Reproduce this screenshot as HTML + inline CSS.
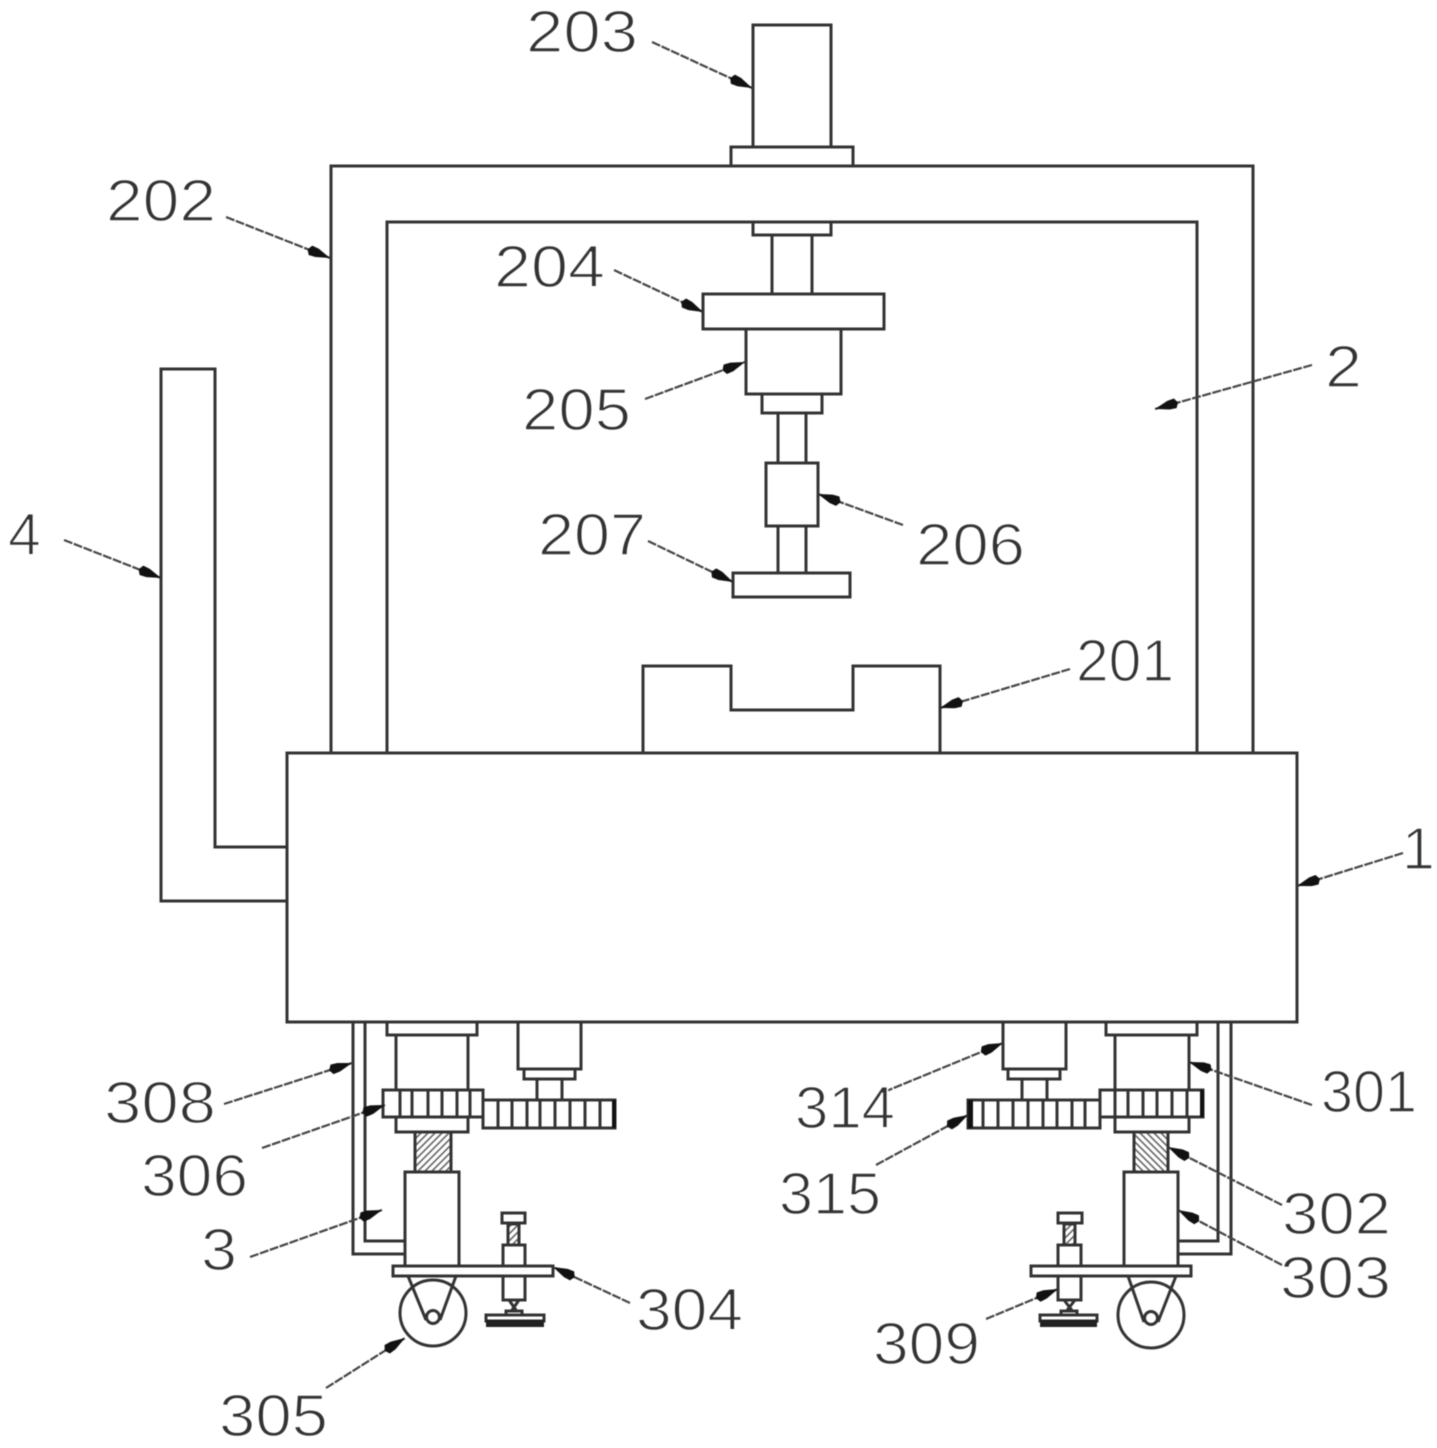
<!DOCTYPE html>
<html><head><meta charset="utf-8"><style>
html,body{margin:0;padding:0;background:#fff;width:1437px;height:1448px;overflow:hidden}
svg{display:block;filter:blur(.5px)}
.l{fill:#fff;stroke:#333;stroke-width:3}
.n{fill:none;stroke:#333;stroke-width:3}
.t{fill:none;stroke:#333;stroke-width:3}
.a{stroke:#444;stroke-width:2.2;fill:none;stroke-dasharray:9 1.5;marker-end:url(#h)}
text{font-family:"Liberation Sans",sans-serif;font-size:59px;fill:#333;stroke:#fff;stroke-width:1.5}
</style></head><body>
<svg width="1437" height="1448" viewBox="0 0 1437 1448" xmlns="http://www.w3.org/2000/svg">
<defs>
<marker id="h" markerUnits="userSpaceOnUse" markerWidth="26" markerHeight="14" refX="24" refY="6.5" orient="auto"><path d="M0 6.5L3 1.5L10 2L24 6.5L10 11L3 11.5Z" fill="#111"/></marker>
<pattern id="hl" width="7" height="7" patternUnits="userSpaceOnUse"><path d="M-1 8L8 -1M-1 1L1 -1M6 8L8 6" stroke="#666" stroke-width="1.6"/></pattern>
<pattern id="hr" width="7" height="7" patternUnits="userSpaceOnUse"><path d="M-1 -1L8 8M-1 6L1 8M6 -1L8 1" stroke="#666" stroke-width="1.6"/></pattern>
</defs>
<g>
<!-- top motor -->
<rect class="l" x="753" y="25" width="78" height="122"/>
<rect class="l" x="731" y="147" width="122" height="19"/>
<!-- frame -->
<path class="n" d="M331 753V166H1253V753"/>
<path class="n" d="M387 753V222H1197V753"/>
<!-- spindle -->
<rect class="l" x="753" y="222" width="78" height="13"/>
<path class="n" d="M772 235V294M812 235V294"/>
<rect class="l" x="703" y="294" width="181" height="35"/>
<rect class="l" x="746" y="329" width="95" height="65"/>
<rect class="l" x="762" y="394" width="60" height="19"/>
<path class="n" d="M778 413V463M806 413V463"/>
<rect class="l" x="766" y="463" width="52" height="63"/>
<path class="n" d="M778 526V573M806 526V573"/>
<rect class="l" x="733" y="573" width="117" height="24"/>
<!-- die -->
<path class="n" d="M643 753V666H731V710H853V666H940V753"/>
<!-- handle -->
<path class="n" d="M287 901H161V369H215V847H287"/>
<!-- base -->
<rect class="l" x="287" y="753" width="1010" height="269"/>

<!-- LEFT LEG -->
<path class="n" d="M353 1022V1254H405M365 1022V1241H405"/>
<rect class="l" x="387" y="1022" width="90" height="13"/>
<rect class="l" x="396" y="1035" width="72" height="97"/>
<rect class="l" x="518" y="1022" width="63" height="47"/>
<rect class="l" x="524" y="1069" width="51" height="10"/>
<path class="n" d="M537 1079V1100M562 1079V1100"/>
<rect class="l" x="383" y="1090" width="100" height="27"/>
<path class="t" d="M400 1090V1117M412 1090V1117M428 1090V1117M442 1090V1117M457 1090V1117M470 1090V1117"/>
<rect class="l" x="483" y="1100" width="132" height="28"/>
<path class="t" d="M498 1100V1128M512 1100V1128M527 1100V1128M540 1100V1128M555 1100V1128M570 1100V1128M585 1100V1128M600 1100V1128"/>
<rect x="612" y="1100" width="4" height="28" fill="#111"/>
<rect x="415" y="1132" width="36" height="40" fill="url(#hl)" stroke="#333" stroke-width="3"/>
<rect class="l" x="405" y="1172" width="54" height="94"/>
<circle cx="433" cy="1313" r="33" class="l"/>
<path class="n" d="M408 1276L426 1320M456 1276L440 1320"/>
<circle cx="433" cy="1317" r="6.5" class="l"/>
<rect class="l" x="503" y="1245" width="22" height="55"/>
<rect x="508" y="1224" width="11" height="21" fill="url(#hl)" stroke="#333" stroke-width="3"/>
<rect class="l" x="502" y="1213" width="23" height="10"/>
<path class="n" d="M509 1300L518 1313M519 1300L510 1313"/>
<rect class="l" x="506" y="1311" width="16" height="5"/>
<rect class="l" x="486" y="1315" width="58" height="6"/>
<rect x="486" y="1320" width="58" height="7" fill="#222"/>
<rect class="l" x="393" y="1266" width="160" height="10"/>

<!-- RIGHT LEG -->
<path class="n" d="M1231 1022V1254H1178M1218 1022V1241H1178"/>
<rect class="l" x="1106" y="1022" width="91" height="13"/>
<rect class="l" x="1115" y="1035" width="74" height="97"/>
<rect class="l" x="1003" y="1022" width="63" height="47"/>
<rect class="l" x="1008" y="1069" width="52" height="10"/>
<path class="n" d="M1022 1079V1100M1047 1079V1100"/>
<rect class="l" x="1100" y="1090" width="103" height="27"/>
<path class="t" d="M1115 1090V1117M1128 1090V1117M1143 1090V1117M1157 1090V1117M1172 1090V1117M1187 1090V1117"/>
<rect x="1200" y="1090" width="4" height="27" fill="#111"/>
<rect class="l" x="968" y="1100" width="132" height="28"/>
<path class="t" d="M983 1100V1128M998 1100V1128M1013 1100V1128M1028 1100V1128M1043 1100V1128M1057 1100V1128M1072 1100V1128M1085 1100V1128"/>
<rect x="968" y="1100" width="5" height="28" fill="#111"/>
<rect x="1134" y="1132" width="34" height="40" fill="url(#hr)" stroke="#333" stroke-width="3"/>
<rect class="l" x="1124" y="1172" width="54" height="94"/>
<circle cx="1151" cy="1315" r="33" class="l"/>
<path class="n" d="M1128 1276L1144 1322M1176 1276L1158 1322"/>
<circle cx="1151" cy="1318" r="6.5" class="l"/>
<rect class="l" x="1058" y="1245" width="23" height="55"/>
<rect x="1064" y="1224" width="11" height="21" fill="url(#hl)" stroke="#333" stroke-width="3"/>
<rect class="l" x="1058" y="1213" width="24" height="10"/>
<path class="n" d="M1064 1300L1074 1313M1075 1300L1065 1313"/>
<rect class="l" x="1061" y="1311" width="16" height="5"/>
<rect class="l" x="1040" y="1315" width="57" height="6"/>
<rect x="1040" y="1320" width="57" height="7" fill="#222"/>
<rect class="l" x="1031" y="1266" width="160" height="10"/>
</g>

<!-- leaders -->
<path class="a" d="M652 42L752 88"/>
<path class="a" d="M226 217L330 258"/>
<path class="a" d="M614 270L703 312"/>
<path class="a" d="M645 399L745 362"/>
<path class="a" d="M1312 365L1155 409"/>
<path class="a" d="M903 525L818 494"/>
<path class="a" d="M648 541L733 582"/>
<path class="a" d="M1070 669L940 708"/>
<path class="a" d="M64 540L161 578"/>
<path class="a" d="M1403 853L1297 886"/>
<path class="a" d="M224 1104L352 1063"/>
<path class="a" d="M262 1148L385 1105"/>
<path class="a" d="M250 1257L382 1210"/>
<path class="a" d="M630 1303L553 1267"/>
<path class="a" d="M326 1388L405 1338"/>
<path class="a" d="M884 1092L1003 1043"/>
<path class="a" d="M876 1165L968 1115"/>
<path class="a" d="M1312 1105L1189 1062"/>
<path class="a" d="M1282 1205L1168 1147"/>
<path class="a" d="M1282 1265L1178 1210"/>
<path class="a" d="M986 1319L1058 1289"/>

<!-- labels -->
<text x="526" y="52" textLength="112" lengthAdjust="spacingAndGlyphs">203</text>
<text x="106" y="221" textLength="110" lengthAdjust="spacingAndGlyphs">202</text>
<text x="494" y="287" textLength="111" lengthAdjust="spacingAndGlyphs">204</text>
<text x="522" y="430" textLength="109" lengthAdjust="spacingAndGlyphs">205</text>
<text x="1325" y="387" textLength="37" lengthAdjust="spacingAndGlyphs">2</text>
<text x="916" y="565" textLength="109" lengthAdjust="spacingAndGlyphs">206</text>
<text x="538" y="555" textLength="108" lengthAdjust="spacingAndGlyphs">207</text>
<text x="1076" y="681" textLength="98" lengthAdjust="spacingAndGlyphs">201</text>
<text x="8" y="555">4</text>
<text x="1402" y="869">1</text>
<text x="104" y="1123" textLength="112" lengthAdjust="spacingAndGlyphs">308</text>
<text x="141" y="1196" textLength="107" lengthAdjust="spacingAndGlyphs">306</text>
<text x="201" y="1270" textLength="36" lengthAdjust="spacingAndGlyphs">3</text>
<text x="636" y="1330" textLength="107" lengthAdjust="spacingAndGlyphs">304</text>
<text x="219" y="1436" textLength="109" lengthAdjust="spacingAndGlyphs">305</text>
<text x="795" y="1128" textLength="100" lengthAdjust="spacingAndGlyphs">314</text>
<text x="779" y="1214" textLength="102" lengthAdjust="spacingAndGlyphs">315</text>
<text x="1321" y="1112" textLength="96" lengthAdjust="spacingAndGlyphs">301</text>
<text x="1282" y="1234" textLength="109" lengthAdjust="spacingAndGlyphs">302</text>
<text x="1280" y="1298" textLength="111" lengthAdjust="spacingAndGlyphs">303</text>
<text x="873" y="1364" textLength="107" lengthAdjust="spacingAndGlyphs">309</text>
</svg>
</body></html>
